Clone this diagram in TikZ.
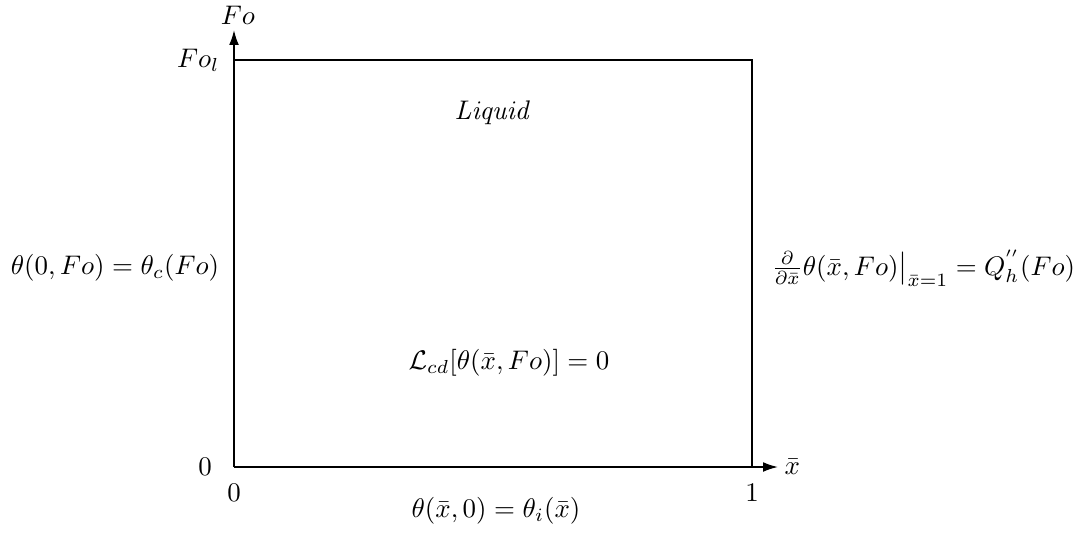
\documentclass[tikz,border=0pt]{standalone}
\usetikzlibrary{arrows.meta}
\begin{document}
\begin{tikzpicture}[x=0.01306cm,y=-0.01306cm,
  axis/.style={line width=0.6pt,-{Latex[length=5.5pt,width=3.6pt]}},
  frame/.style={line width=0.6pt},
  lbl/.style={inner sep=0pt}]
\useasboundingbox (0,0) rectangle (1077,533);
\coordinate (O) at (234,467);
\coordinate (Ytip) at (234,30);
\coordinate (Xtip) at (778,467);
\coordinate (TL) at (234,60);
\coordinate (TR) at (752,60);
\coordinate (BR) at (752,467);
\draw[axis] (O) -- (Ytip);
\draw[axis] (O) -- (Xtip);
\draw[frame] (TL) -- (TR) -- (BR);
\node[lbl] (fo) at (238,15) {$Fo$};
\node[lbl,anchor=east] (fol) at (220,60) {$Fo_l$};
\node[lbl,anchor=west] (xb) at (784,467) {$\bar{x}$};
\node[lbl] (z1) at (205,467) {$0$};
\node[lbl] (z2) at (234,493) {$0$};
\node[lbl] (one) at (752,493) {$1$};
\node[lbl] (liq) at (493,113) {$\mathit{Liquid}$};
\node[lbl] (left) at (115,268) {$\theta(0,Fo)=\theta_c(Fo)$};
\node[lbl,anchor=west] (right) at (771,268) {$\frac{\partial}{\partial\bar{x}}\theta(\bar{x},Fo)\big|_{\bar{x}=1}=Q^{''}_h(Fo)$};
\node[lbl] (pde) at (509,363) {$\mathcal{L}_{cd}[\theta(\bar{x},Fo)]=0$};
\node[lbl] (ic) at (496,511) {$\theta(\bar{x},0)=\theta_i(\bar{x})$};
\end{tikzpicture}
\end{document}
